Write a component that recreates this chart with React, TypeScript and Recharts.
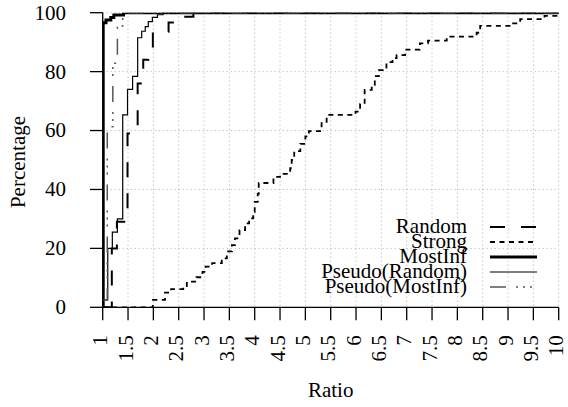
import React from 'react';
import { LineChart, Line, XAxis, YAxis, CartesianGrid, Legend, Label } from 'recharts';

const FONT = "'Liberation Serif', 'DejaVu Serif', serif";
const FONT_SIZE = 21;
const textStyle = { fontFamily: FONT, fontSize: FONT_SIZE };

// cumulative step points: [ratio, percentage]
const randomPts = [
  [1, 0], [1.18, 20], [1.28, 29], [1.49, 59], [1.69, 76], [1.8, 84], [1.9, 88],
  [1.99, 93.5], [2.3, 96.7], [2.51, 98.6], [2.79, 100], [10, 100],
];

const strongPts = [
  [1, 0], [1.99, 2.5], [2.23, 5], [2.35, 6.2], [2.59, 7.2], [2.66, 8.7], [2.85, 10.2],
  [2.97, 12], [3.03, 13.8], [3.16, 15], [3.35, 16.6], [3.45, 19], [3.55, 21.1],
  [3.61, 23.4], [3.7, 26.2], [3.81, 28.5], [3.89, 30.2], [3.97, 32.4], [4.0, 35.8],
  [4.06, 38.5], [4.08, 42.2], [4.37, 44.3], [4.5, 45.3], [4.7, 47.2], [4.73, 50],
  [4.78, 53], [4.9, 55.5], [5.0, 58], [5.07, 59.8], [5.32, 62.5], [5.42, 65.3],
  [5.99, 66.4], [6.08, 69], [6.17, 73.8], [6.31, 75.5], [6.37, 78.5], [6.45, 80.5],
  [6.6, 83.2], [6.72, 84.6], [6.8, 85.6], [6.97, 87.5], [7.26, 89.6], [7.42, 90.5],
  [7.79, 91.9], [8.38, 93.2], [8.45, 95.5], [9.07, 96.4], [9.24, 97.8], [9.72, 98.9],
  [9.98, 100], [10, 100],
];

const mostInfPts = [
  [1, 0], [1.01, 96.6], [1.065, 97.5], [1.16, 98.4], [1.22, 99.2], [1.41, 100], [10, 100],
];

const pseudoRandomPts = [
  [1, 2.5], [1.1, 20], [1.19, 25.5], [1.29, 30], [1.395, 65.3], [1.49, 74], [1.59, 78.4],
  [1.69, 91.5], [1.77, 93.7], [1.84, 95.3], [1.9, 97], [1.98, 98.4], [2.08, 99.3],
  [2.19, 100], [10, 100],
];

const pseudoMostInfPts = [
  [1, 2.5], [1.09, 61.3], [1.2, 82.8], [1.29, 95.5], [1.395, 100], [10, 100],
];

const xTicks = [1, 1.5, 2, 2.5, 3, 3.5, 4, 4.5, 5, 5.5, 6, 6.5, 7, 7.5, 8, 8.5, 9, 9.5, 10];
const yTicks = [0, 20, 40, 60, 80, 100];

const toData = (pts: number[][]) => pts.map(([x, v]) => ({ x, v }));

interface SeriesDef {
  name: string;
  pts: number[][];
  stroke: string;
  width: number;
  dash?: string;
}

const series: SeriesDef[] = [
  { name: 'Random', pts: randomPts, stroke: '#000', width: 2, dash: '15 16' },
  { name: 'Strong', pts: strongPts, stroke: '#000', width: 1.8, dash: '5 4.5' },
  { name: 'MostInf', pts: mostInfPts, stroke: '#000', width: 3 },
  { name: 'Pseudo(Random)', pts: pseudoRandomPts, stroke: '#000', width: 1.2 },
  { name: 'Pseudo(MostInf)', pts: pseudoMostInfPts, stroke: '#555', width: 1.5, dash: '16 10 2 5 2 5 2 10' },
];

const XTick = (props: any) => {
  const { x, y, payload } = props;
  return (
    <text
      x={x}
      y={y}
      transform={`rotate(-90 ${x} ${y})`}
      textAnchor="end"
      dy="0.22em"
      style={textStyle}
      fill="#000"
    >
      {String(payload.value)}
    </text>
  );
};

const YTick = (props: any) => {
  const { x, y, payload } = props;
  return (
    <text x={x} y={y} textAnchor="end" dy="0.33em" style={textStyle} fill="#000">
      {String(payload.value)}
    </text>
  );
};

const LegendBox = () => (
  <svg width={270} height={82} style={{ display: 'block', overflow: 'visible' }}>
    {series.map((s, i) => {
      const cy = 7 + i * 15;
      return (
        <g key={s.name}>
          <text x={177} y={cy + 6} textAnchor="end" style={textStyle} fill="#000">
            {s.name}
          </text>
          <line
            x1={200}
            x2={247}
            y1={cy}
            y2={cy}
            stroke={s.stroke}
            strokeWidth={s.width}
            strokeDasharray={s.dash}
          />
        </g>
      );
    })}
  </svg>
);

const App: React.FC = () => {
  return (
    <div style={{ position: 'absolute', left: 0, top: 0, width: 568, height: 407, background: '#fff' }}>
      <LineChart width={568} height={407} margin={{ top: 12.7, right: 9.3, bottom: 0, left: 0 }}>
        <CartesianGrid stroke="#aaa" strokeDasharray="1 3" />
        <XAxis
          type="number"
          dataKey="x"
          domain={[1, 10]}
          ticks={xTicks}
          interval={0}
          allowDataOverflow
          height={99.7}
          tickSize={13}
          tickMargin={15}
          axisLine={{ stroke: '#000', strokeWidth: 1.3 }}
          tickLine={{ stroke: '#000', strokeWidth: 1.3 }}
          tick={XTick}
        >
          <Label
            content={() => (
              <text x={330.7} y={397} textAnchor="middle" style={textStyle} fill="#000">
                Ratio
              </text>
            )}
          />
        </XAxis>
        <YAxis
          type="number"
          domain={[0, 100]}
          ticks={yTicks}
          interval={0}
          allowDataOverflow
          width={102.7}
          tickSize={12.7}
          tickMargin={24}
          axisLine={{ stroke: '#000', strokeWidth: 1.3 }}
          tickLine={{ stroke: '#000', strokeWidth: 1.3 }}
          tick={YTick}
        >
          <Label
            content={() => (
              <text
                x={25}
                y={162}
                transform="rotate(-90 25 162)"
                textAnchor="middle"
                style={textStyle}
                fill="#000"
              >
                Percentage
              </text>
            )}
          />
        </YAxis>
        {series.map((s) => (
          <Line
            key={s.name}
            name={s.name}
            data={toData(s.pts)}
            dataKey="v"
            type="stepAfter"
            stroke={s.stroke}
            strokeWidth={s.width}
            strokeDasharray={s.dash}
            dot={false}
            activeDot={false}
            isAnimationActive={false}
          />
        ))}
        <Legend
          layout="horizontal"
          align="center"
          verticalAlign="middle"
          content={() => <LegendBox />}
          wrapperStyle={{ left: 290, top: 220, width: 270, height: 82 }}
        />
      </LineChart>
    </div>
  );
};

export default App;
